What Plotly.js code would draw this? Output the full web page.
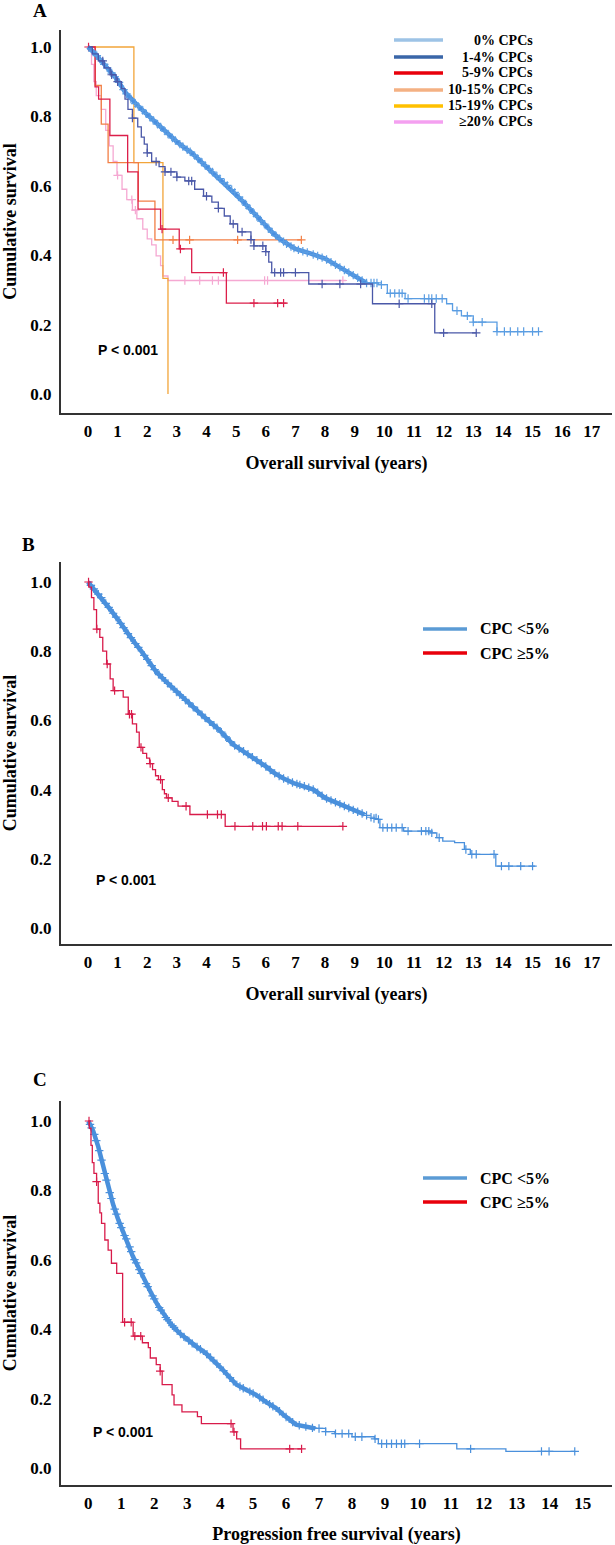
<!DOCTYPE html>
<html><head><meta charset="utf-8">
<script src="https://cdn.plot.ly/plotly-3.0.1.min.js"></script>
<style>html,body{margin:0;padding:0;background:#fff}#chart{width:615px;height:1545px}</style>
</head><body><div id="chart"></div>
<script>
// ---------- Panel A: Overall survival by CPC group ----------
const groupsA = ["0% CPCs", "1-4% CPCs", "5-9% CPCs", "10-15% CPCs", "15-19% CPCs", "≥20% CPCs"];

const osCpc0T = [0,0.25,0.5,0.75,1.0,1.25,1.5,1.75,2.0,2.25,2.5,2.75,3.0,3.25,3.5,3.75,4.0,4.25,4.5,4.75,5.0,5.25,5.5,5.75,6.0,6.25,6.5,6.75,7.0,7.5,8.0,8.5,9.0,9.4,9.8,10.1,10.7,12.1,12.3,12.6,13.0,13.8,15.2];
const osCpc0S = [1.0,0.98,0.955,0.93,0.905,0.87,0.845,0.825,0.805,0.785,0.766,0.745,0.727,0.71,0.695,0.675,0.655,0.636,0.617,0.597,0.577,0.553,0.53,0.507,0.485,0.463,0.445,0.43,0.418,0.405,0.39,0.365,0.34,0.32,0.315,0.29,0.275,0.26,0.24,0.225,0.207,0.18,0.18];
const osCpc0Cens = [0.15,0.3,0.4,0.55,0.65,0.8,0.9,1.05,1.2,1.3,1.45,1.6,1.7,1.85,1.95,2.1,2.2,2.35,2.45,2.6,2.7,2.85,2.95,3.1,3.2,3.35,3.45,3.6,3.7,3.85,3.95,4.1,4.2,4.35,4.45,4.6,4.7,4.85,4.95,5.1,5.2,5.35,5.45,5.6,5.7,5.85,5.95,6.1,6.2,6.35,6.45,6.6,6.7,6.85,6.95,7.1,7.25,7.4,7.6,7.75,7.9,8.05,8.2,8.35,8.5,8.65,8.8,8.95,9.1,9.25,9.4,9.55,9.65,9.75,9.9,10.2,10.35,10.5,10.6,10.8,11.35,11.5,11.6,11.75,11.95,12.45,12.8,13.0,13.3,13.8,14.05,14.25,14.5,14.7,15.0,15.2];

const osCpc14T = [0,0.15,0.35,0.55,0.75,0.95,1.13,1.25,1.35,1.5,1.68,1.8,1.9,2.0,2.15,2.4,2.6,3.0,3.27,3.6,3.9,4.18,4.4,4.6,4.8,5.05,5.5,5.6,6.0,6.1,6.2,7.45,9.6,11.7,13.1];
const osCpc14S = [1,0.98,0.96,0.94,0.92,0.9,0.88,0.85,0.82,0.795,0.77,0.74,0.72,0.695,0.67,0.655,0.64,0.625,0.614,0.59,0.57,0.553,0.535,0.513,0.49,0.467,0.445,0.427,0.41,0.38,0.35,0.317,0.26,0.176,0.176];
const osCpc14Cens = [0.5,0.8,1.0,1.5,2.0,2.3,2.6,2.8,3.0,3.4,3.5,4.0,4.4,4.9,5.2,5.5,5.6,5.9,6.0,6.3,6.5,6.6,7.0,7.9,8.5,9.2,10.5,11.6,12.0,13.1];

const osCpc59T = [0,0.24,0.36,0.74,1.34,1.69,2.45,3.08,3.5,4.67,6.7];
const osCpc59S = [1,0.885,0.85,0.745,0.64,0.533,0.475,0.418,0.35,0.262,0.262];
const osCpc59Cens = [0.02,2.5,3.12,4.57,5.6,6.4,6.6];

const osCpc1015T = [0,0.25,0.45,0.68,1.7,2.26,7.2];
const osCpc1015S = [1,0.889,0.778,0.667,0.556,0.444,0.444];
const osCpc1015Cens = [2.87,3.43,5.05,7.2];

const osCpc1519T = [0,1.55,2.53,2.7];
const osCpc1519S = [1,0.667,0.333,0];

const osCpc20T = [0,0.12,0.2,0.28,0.45,0.6,0.72,0.85,0.98,1.15,1.31,1.5,1.65,1.85,2.0,2.15,2.3,2.45,2.53,2.7,8.7];
const osCpc20S = [1,0.95,0.9,0.86,0.82,0.76,0.715,0.67,0.63,0.59,0.56,0.53,0.505,0.475,0.447,0.43,0.398,0.37,0.34,0.327,0.327];
const osCpc20Cens = [1.0,1.48,1.6,3.27,3.77,4.2,4.4,5.96,6.06,8.6];

// ---------- Panel B: Overall survival, CPC <5% vs ≥5% ----------
const groupsBC = ["CPC <5%", "CPC ≥5%"];
const osLt5T = [0,0.25,0.5,0.74,1.0,1.25,1.53,1.8,2.05,2.31,2.6,2.9,3.21,3.6,4.0,4.4,4.9,5.3,5.62,6.0,6.28,6.6,6.94,7.3,7.61,8.0,8.53,8.93,9.33,9.72,9.85,10.65,11.57,11.77,11.97,12.37,12.7,12.9,13.76,15.08];
const osLt5S = [1,0.975,0.95,0.922,0.893,0.862,0.83,0.8,0.77,0.74,0.715,0.69,0.665,0.635,0.604,0.575,0.53,0.508,0.49,0.467,0.448,0.432,0.419,0.41,0.40,0.376,0.357,0.342,0.328,0.314,0.29,0.28,0.275,0.261,0.251,0.247,0.227,0.213,0.179,0.179];
const osLt5Cens = [0.1,0.2,0.35,0.45,0.6,0.7,0.85,0.95,1.1,1.2,1.35,1.45,1.6,1.7,1.9,2.0,2.15,2.25,2.4,2.5,2.7,2.8,3.0,3.1,3.3,3.4,3.55,3.7,3.85,3.95,4.1,4.25,4.35,4.5,4.65,4.8,4.95,5.1,5.25,5.4,5.55,5.7,5.85,6.0,6.15,6.3,6.45,6.6,6.75,6.9,7.05,7.15,7.3,7.45,7.6,7.75,7.9,8.05,8.2,8.35,8.5,8.65,8.8,8.95,9.1,9.25,9.4,9.55,9.65,9.8,9.95,10.1,10.25,10.4,10.6,10.8,11.25,11.4,11.5,11.6,11.85,12.75,12.95,13.1,13.7,13.95,14.2,14.6,15.0];
const osGe5T = [0,0.03,0.12,0.2,0.29,0.4,0.5,0.63,0.75,0.85,1.19,1.36,1.5,1.64,1.73,1.85,1.98,2.08,2.18,2.28,2.38,2.51,2.58,2.65,2.84,3.04,3.44,4.63,8.6];
const osGe5S = [1,0.985,0.955,0.92,0.864,0.84,0.8,0.763,0.72,0.686,0.667,0.618,0.59,0.566,0.522,0.505,0.491,0.475,0.458,0.44,0.429,0.40,0.388,0.376,0.366,0.352,0.328,0.294,0.294];
const osGe5Cens = [0.02,0.3,0.65,0.9,1.4,1.47,1.79,2.1,2.45,2.71,3.31,4.03,4.37,4.5,4.96,5.56,5.89,6.02,6.42,6.55,7.08,8.6];

// ---------- Panel C: Progression free survival, CPC <5% vs ≥5% ----------
const pfsLt5T = [0,0.15,0.3,0.45,0.6,0.75,0.91,1.05,1.21,1.35,1.51,1.7,1.9,2.1,2.3,2.5,2.75,3.0,3.25,3.55,3.8,4.03,4.25,4.5,4.8,5.1,5.4,5.7,5.9,6.05,6.3,6.89,7.2,7.48,8.0,8.68,8.8,11.18,12.67,14.76];
const pfsLt5S = [1,0.97,0.926,0.868,0.81,0.76,0.715,0.68,0.648,0.61,0.58,0.54,0.505,0.47,0.44,0.415,0.39,0.37,0.352,0.332,0.31,0.288,0.265,0.24,0.225,0.21,0.19,0.172,0.155,0.143,0.125,0.114,0.105,0.099,0.09,0.084,0.07,0.055,0.048,0.048];
const pfsLt5Cens = [0.05,0.1,0.18,0.24,0.33,0.4,0.5,0.55,0.65,0.7,0.8,0.85,0.95,1.0,1.1,1.15,1.25,1.3,1.4,1.45,1.55,1.6,1.75,1.8,1.95,2.0,2.15,2.2,2.35,2.4,2.55,2.6,2.8,2.9,3.05,3.15,3.3,3.4,3.6,3.7,3.9,4.1,4.3,4.4,4.6,4.7,4.9,5.0,5.2,5.3,5.5,5.6,5.8,6.0,6.2,6.4,6.6,6.8,7.0,7.2,7.5,7.7,7.9,8.1,8.3,8.7,8.9,9.05,9.2,9.35,9.5,9.6,10.05,11.6,13.75,13.98,14.76];
const pfsGe5T = [0,0.03,0.08,0.12,0.17,0.25,0.3,0.35,0.4,0.5,0.6,0.7,0.86,1.04,1.36,1.64,1.82,1.88,2.06,2.18,2.24,2.54,2.6,2.84,3.31,3.43,4.39,4.5,4.62,6.47];
const pfsGe5S = [1,0.979,0.93,0.88,0.849,0.825,0.763,0.735,0.705,0.657,0.628,0.59,0.561,0.42,0.38,0.361,0.347,0.317,0.298,0.279,0.24,0.211,0.182,0.162,0.148,0.128,0.104,0.084,0.055,0.055];
const pfsGe5Cens = [0.02,0.25,1.1,1.3,1.41,1.59,2.18,4.33,4.42,6.11,6.47];

const yTicks = [0, 0.2, 0.4, 0.6, 0.8, 1.0];
const pText = "P &lt; 0.001";

// ---------- helpers ----------
function stepAt(ts, ss, t) {
  let v = ss[0];
  for (let i = 0; i < ts.length; i++) { if (ts[i] <= t) v = ss[i]; else break; }
  return v;
}
function linAt(ts, ss, t) {
  for (let i = 1; i < ts.length; i++) {
    if (t <= ts[i]) { const f = (t - ts[i-1]) / (ts[i] - ts[i-1]); return ss[i-1] + f * (ss[i] - ss[i-1]); }
  }
  return ss[ss.length - 1];
}
function base(xa, ya) { return {xaxis: xa, yaxis: ya, showlegend: false, hoverinfo: 'skip'}; }
function curve(ts, ss, color, width, xa, ya) {
  return Object.assign({x: ts, y: ss, mode: 'lines', line: {shape: 'hv', color: color, width: width}}, base(xa, ya));
}
// dense-event curve: smooth thick band up to tmax, thin step line after
function denseCurve(ts, ss, tmax, bandColor, tailColor, xa, ya) {
  const bt = [], bs = [], tt = [], tsv = [];
  for (let i = 0; i < ts.length; i++) {
    if (ts[i] <= tmax) { bt.push(ts[i]); bs.push(ss[i]); }
    if (ts[i] >= tmax) { tt.push(ts[i]); tsv.push(ss[i]); }
  }
  tt.unshift(tmax); tsv.unshift(bs[bs.length - 1]);
  return [
    Object.assign({x: bt, y: bs, mode: 'lines', line: {shape: 'linear', color: bandColor, width: 4.5}}, base(xa, ya)),
    curve(tt, tsv, tailColor, 1.3, xa, ya)
  ];
}
function cens(times, ts, ss, color, xa, ya, tmax) {
  const yv = times.map(t => (tmax !== undefined && t <= tmax) ? linAt(ts, ss, t) : stepAt(ts, ss, t));
  return Object.assign({x: times, y: yv, mode: 'markers',
          marker: {symbol: 'cross-thin', size: 6, color: color, line: {width: 1.2, color: color}}}, base(xa, ya));
}

const cA = {c0: '#4a8fe0', c0t: '#5a9de2', c14: '#4a58a8', c59: '#dc1f4a', c1015: '#f27f45', c1519: '#f2a53a', c20: '#f5a8d2'};
const cBlue = '#4a90dc', cRed = '#d81b4a';
const TA = 9.4, TB = 9.7, TC = 6.9;

const traces = [].concat(
  // A
  curve(osCpc20T, osCpc20S, cA.c20, 1.3, 'x', 'y'),
  cens(osCpc20Cens, osCpc20T, osCpc20S, cA.c20, 'x', 'y'),
  curve(osCpc1519T, osCpc1519S, cA.c1519, 1.3, 'x', 'y'),
  curve(osCpc1015T, osCpc1015S, cA.c1015, 1.3, 'x', 'y'),
  cens(osCpc1015Cens, osCpc1015T, osCpc1015S, cA.c1015, 'x', 'y'),
  curve(osCpc59T, osCpc59S, cA.c59, 1.3, 'x', 'y'),
  cens(osCpc59Cens, osCpc59T, osCpc59S, cA.c59, 'x', 'y'),
  denseCurve(osCpc0T, osCpc0S, TA, cA.c0, cA.c0t, 'x', 'y'),
  cens(osCpc0Cens, osCpc0T, osCpc0S, cA.c0t, 'x', 'y', TA),
  curve(osCpc14T, osCpc14S, cA.c14, 1.3, 'x', 'y'),
  cens(osCpc14Cens, osCpc14T, osCpc14S, cA.c14, 'x', 'y'),
  // B
  denseCurve(osLt5T, osLt5S, TB, cBlue, cBlue, 'x2', 'y2'),
  cens(osLt5Cens, osLt5T, osLt5S, cBlue, 'x2', 'y2', TB),
  curve(osGe5T, osGe5S, cRed, 1.3, 'x2', 'y2'),
  cens(osGe5Cens, osGe5T, osGe5S, cRed, 'x2', 'y2'),
  // C
  denseCurve(pfsLt5T, pfsLt5S, TC, cBlue, cBlue, 'x3', 'y3'),
  cens(pfsLt5Cens, pfsLt5T, pfsLt5S, cBlue, 'x3', 'y3', TC),
  curve(pfsGe5T, pfsGe5S, cRed, 1.3, 'x3', 'y3'),
  cens(pfsGe5Cens, pfsGe5T, pfsGe5S, cRed, 'x3', 'y3')
);

// ---------- layout ----------
const W = 615, H = 1545;
const serif = 'Liberation Serif, Times New Roman, serif';
const tickFont = {family: serif, size: 17, color: '#000', weight: 'bold'};
const titleFont = {family: serif, size: 18, color: '#000', weight: 'bold'};
const px = v => v / W, py = v => 1 - v / H;

function xAxis(dom, range, maxTick, anchor, title) {
  const tv = []; for (let k = 0; k <= maxTick; k++) tv.push(k);
  return {domain: dom, range: range, anchor: anchor, tickvals: tv, ticktext: tv.map(String),
          showline: true, linewidth: 2, linecolor: '#333', showgrid: false, zeroline: false,
          ticks: '', tickfont: tickFont, ticklabelstandoff: 2, fixedrange: true,
          title: {text: title, font: titleFont, standoff: 16}};
}
function yAxis(dom, range, anchor) {
  return {domain: dom, range: range, anchor: anchor, tickvals: yTicks, ticktext: yTicks.map(v => v.toFixed(1)),
          showline: true, linewidth: 2, linecolor: '#333', showgrid: false, zeroline: false,
          ticks: '', tickfont: tickFont, ticklabelstandoff: 4, fixedrange: true,
          title: {text: 'Cumulative survival', font: titleFont, standoff: 10}};
}

const xDom = [px(61), px(612)];
const layout = {
  width: W, height: H, margin: {l: 0, r: 0, t: 0, b: 0}, paper_bgcolor: '#fff', plot_bgcolor: '#fff',
  showlegend: false,
  xaxis: xAxis(xDom, [-0.909, 17.68], 17, 'y', 'Overall survival (years)'),
  yaxis: yAxis([py(413), py(30)], [-0.0548, 1.049], 'x'),
  xaxis2: xAxis(xDom, [-0.909, 17.68], 17, 'y2', 'Overall survival (years)'),
  yaxis2: yAxis([py(944), py(562)], [-0.0462, 1.0578], 'x2'),
  xaxis3: xAxis(xDom, [-0.83, 15.89], 15, 'y3', 'Progression free survival (years)'),
  yaxis3: yAxis([py(1485), py(1101)], [-0.049, 1.0576], 'x3'),
  shapes: [], annotations: []
};

function ann(text, x, y, xanchor, font) {
  layout.annotations.push({text: text, x: px(x), y: py(y), xref: 'paper', yref: 'paper',
    xanchor: xanchor, yanchor: 'middle', showarrow: false, font: font});
}
function legLine(x0, x1, y, color) {
  layout.shapes.push({type: 'line', xref: 'paper', yref: 'paper', x0: px(x0), x1: px(x1), y0: py(y), y1: py(y),
    line: {color: color, width: 3.5}});
}

// panel letters
const letterFont = {family: serif, size: 19, color: '#000', weight: 'bold'};
ann('A', 40, 10, 'center', letterFont);
ann('B', 28, 545, 'center', letterFont);
ann('C', 40, 1079, 'center', letterFont);

// p-values
const pFont = {family: 'Liberation Sans, Arial, sans-serif', size: 14, color: '#000', weight: 'bold'};
ann(pText, 128, 350, 'center', pFont);
ann(pText, 126, 880, 'center', pFont);
ann(pText, 123, 1432, 'center', pFont);

// legend A
const legColorsA = ['#9dc3e6', '#3a66a8', '#e8000b', '#f4b183', '#ffc000', '#f4a0f0'];
const legRowsA = [40, 57, 73, 90, 106, 122];
const legFontA = {family: serif, size: 14, color: '#000', weight: 'bold'};
groupsA.forEach((g, i) => {
  legLine(394, 443, legRowsA[i], legColorsA[i]);
  ann(g.replace('<', '&lt;'), 535, legRowsA[i], 'right', legFontA);
});

// legends B and C
const legColorsBC = ['#5b9bd5', '#e8000b'];
const legFontBC = {family: serif, size: 16, color: '#000', weight: 'bold'};
[[629, 653], [1178, 1202]].forEach(rows => {
  groupsBC.forEach((g, i) => {
    legLine(423, 467, rows[i], legColorsBC[i]);
    ann(g.replace('<', '&lt;'), 478, rows[i], 'left', legFontBC);
  });
});

Plotly.newPlot('chart', traces, layout, {staticPlot: true, displayModeBar: false});
</script>
</body></html>
